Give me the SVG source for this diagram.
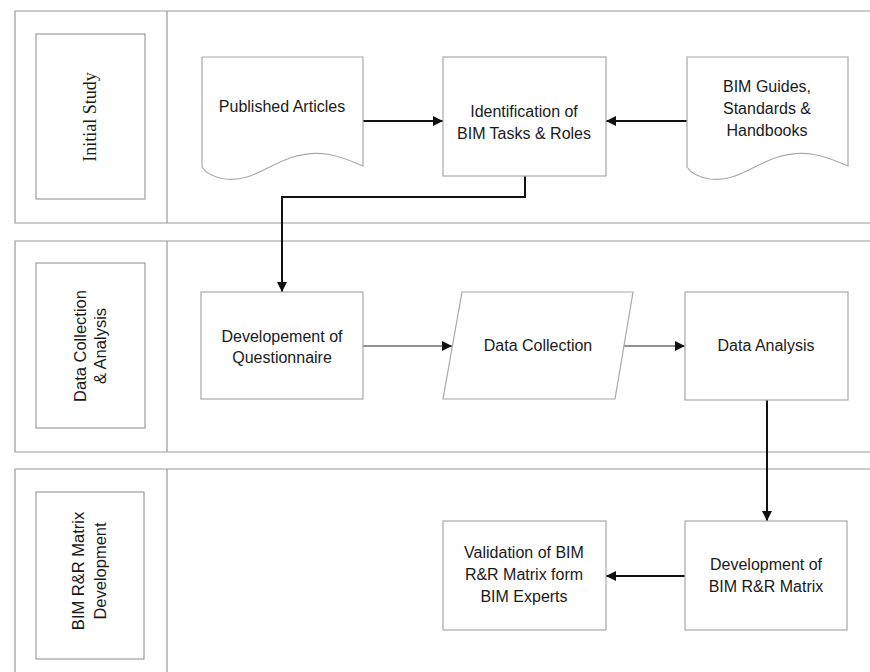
<svg xmlns="http://www.w3.org/2000/svg" width="870" height="672" viewBox="0 0 870 672">
<defs>
<style>
.lane{fill:none;stroke:#9a9a9a;stroke-width:1.2}
.lbl{fill:none;stroke:#8a8a8a;stroke-width:1}
.node{fill:#fff;stroke:#a8a8a8;stroke-width:1.2}
.t{font-family:"Liberation Sans",Arial,sans-serif;font-size:16px;fill:#1a1a1a;text-anchor:middle}
.ts{font-family:"Liberation Serif","Times New Roman",serif;font-size:18px;fill:#1a1a1a;text-anchor:middle}
.c{fill:none;stroke:#111;stroke-width:2}
.c1{fill:none;stroke:#222;stroke-width:1}
</style>
<marker id="ah" viewBox="0 0 10 10" refX="10" refY="5" markerWidth="10" markerHeight="10" markerUnits="userSpaceOnUse" orient="auto">
<path d="M0,0 L10,5 L0,10 z" fill="#111"/>
</marker>
</defs>
<rect width="870" height="672" fill="#fff"/>
<g id="lanes">
<path class="lane" d="M870,11 H15 V223 H870 M167,11 V223"/>
<path class="lane" d="M870,241 H15 V452 H870 M167,241 V452"/>
<path class="lane" d="M870,469 H15 V672 M167,469 V672"/>
</g>
<g id="lane-initial-study">
<rect class="lbl" x="36" y="34" width="109" height="165"/>
<text class="ts" transform="translate(90,117) rotate(-90)" y="6">Initial Study</text>
</g>
<g id="lane-data-collection">
<rect class="lbl" x="36" y="263" width="109" height="165"/>
<text class="t" transform="translate(90,346) rotate(-90)" style="font-size:16.5px"><tspan x="0" y="-4">Data Collection</tspan><tspan x="0" y="16">&amp; Analysis</tspan></text>
</g>
<g id="lane-matrix">
<rect class="lbl" x="36" y="492" width="108" height="167"/>
<text class="t" transform="translate(90,571) rotate(-90)" style="font-size:16.5px"><tspan x="0" y="-6">BIM R&amp;R Matrix</tspan><tspan x="0" y="16">Development</tspan></text>
</g>
<g id="connectors">
<line class="c" x1="363" y1="121" x2="443" y2="121" marker-end="url(#ah)"/>
<line class="c" x1="687" y1="121" x2="606" y2="121" marker-end="url(#ah)"/>
<polyline class="c" points="525,176 525,197 282,197 282,292" marker-end="url(#ah)"/>
<line class="c1" x1="363" y1="346" x2="452" y2="346" marker-end="url(#ah)"/>
<line class="c1" x1="624" y1="346" x2="685" y2="346" marker-end="url(#ah)"/>
<line class="c" x1="767" y1="400" x2="767" y2="521" marker-end="url(#ah)"/>
<line class="c" x1="685" y1="576" x2="606" y2="576" marker-end="url(#ah)"/>
</g>
<g id="published-articles">
<path class="node" d="M202,57 H363 V166 C340,156 320,148 290,158 C265,167 250,182 225,179 C213,177 205,172 202,167 Z"/>
<text class="t" x="282" y="112">Published Articles</text>
</g>
<g id="identification">
<rect class="node" x="443" y="57" width="163" height="119"/>
<text class="t" x="524" y="117">Identification of</text>
<text class="t" x="524" y="139">BIM Tasks &amp; Roles</text>
</g>
<g id="bim-guides">
<path class="node" d="M687,57 H848 V166 C825,156 805,148 775,158 C750,167 735,182 710,179 C698,177 690,172 687,167 Z"/>
<text class="t" x="767" y="92">BIM Guides,</text>
<text class="t" x="767" y="114">Standards &amp;</text>
<text class="t" x="767" y="136">Handbooks</text>
</g>
<g id="developement-questionnaire">
<rect class="node" x="201" y="292" width="162" height="107"/>
<text class="t" x="282" y="342">Developement of</text>
<text class="t" x="282" y="363">Questionnaire</text>
</g>
<g id="data-collection">
<polygon class="node" points="462,292 633,292 615,399 443,399"/>
<text class="t" x="538" y="351">Data Collection</text>
</g>
<g id="data-analysis">
<rect class="node" x="685" y="292" width="163" height="108"/>
<text class="t" x="766" y="351">Data Analysis</text>
</g>
<g id="development-matrix">
<rect class="node" x="685" y="521" width="162" height="109"/>
<text class="t" x="766" y="570">Development of</text>
<text class="t" x="766" y="592">BIM R&amp;R Matrix</text>
</g>
<g id="validation">
<rect class="node" x="443" y="521" width="163" height="109"/>
<text class="t" x="524" y="558">Validation of BIM</text>
<text class="t" x="524" y="580">R&amp;R Matrix form</text>
<text class="t" x="524" y="602">BIM Experts</text>
</g>
</svg>
